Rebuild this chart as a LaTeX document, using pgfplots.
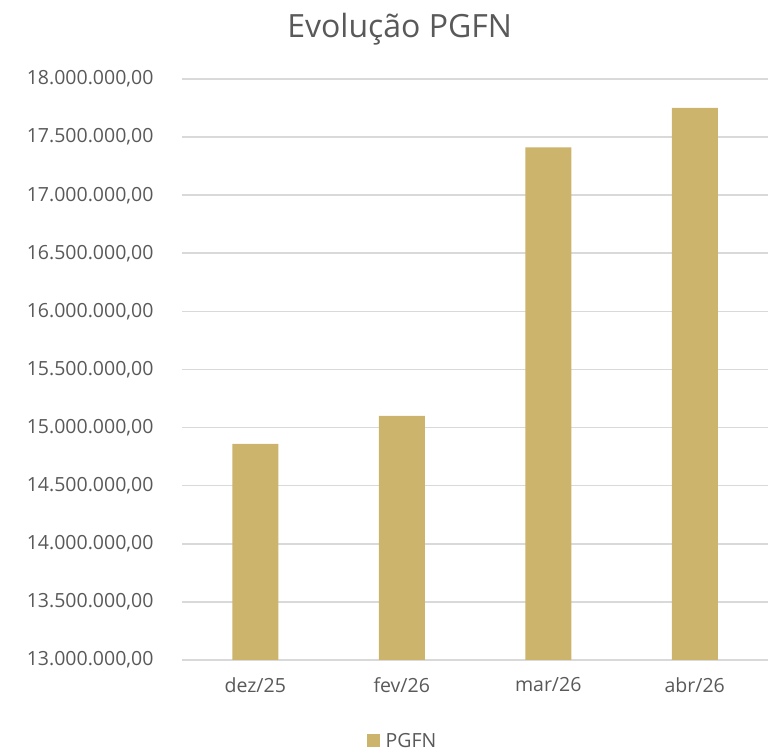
\documentclass[border=0pt]{standalone}
\usepackage{pgfplots}
\pgfplotsset{compat=1.18}
\usepackage{fontspec}
\setmainfont{Open Sans}
\definecolor{barc}{HTML}{CDB46C}
\definecolor{txt}{HTML}{595959}
\definecolor{gridc}{HTML}{D9D9D9}
\begin{document}
\begin{tikzpicture}
\useasboundingbox (0,0) rectangle (769pt,754pt);
\begin{axis}[
  at={(182pt,94pt)}, anchor=south west,
  scale only axis, width=586pt, height=581pt,
  xmin=-0.5, xmax=3.5, ymin=13000000, ymax=18000000,
  ytick={13000000,13500000,14000000,14500000,15000000,15500000,16000000,16500000,17000000,17500000,18000000},
  xtick={0,1,2,3}, xticklabels={dez/25,fev/26,mar/26,abr/26},
  scaled y ticks=false,
  /pgf/number format/.cd, assume math mode=true, fixed, fixed zerofill, precision=2, use comma, 1000 sep={.},
  /pgfplots/.cd,
  axis line style={draw=none},
  major tick length=0pt,
  ymajorgrids, grid style={draw=gridc, line width=1.6pt},
  ticklabel style={font=\fontsize{19.5}{22}\selectfont, text=txt},
  yticklabel style={xshift=-25pt},
  xticklabel style={yshift=-14pt},
  title={Evolução PGFN},
  title style={font=\fontsize{32}{36}\selectfont, text=txt, at={(0.3715,1)}, anchor=center, yshift=44pt},
  legend style={at={(0.377,-0.139)}, anchor=center, draw=none, fill=none, font=\fontsize{19.5}{22}\selectfont, text=txt, inner sep=0pt},
  legend image code/.code={\fill[barc] (0pt,-6.5pt) rectangle (13pt,6.5pt);},
  legend cell align=left,
  legend style={/tikz/every even column/.append style={column sep=0pt}, nodes={inner sep=3pt}},
]
\addplot[ybar, bar width=46pt, fill=barc, draw=none] coordinates {(0,14860000) (1,15100000) (2,17412000) (3,17752000)};
\addlegendentry{\hspace{3pt}PGFN}
\end{axis}
\end{tikzpicture}
\end{document}
